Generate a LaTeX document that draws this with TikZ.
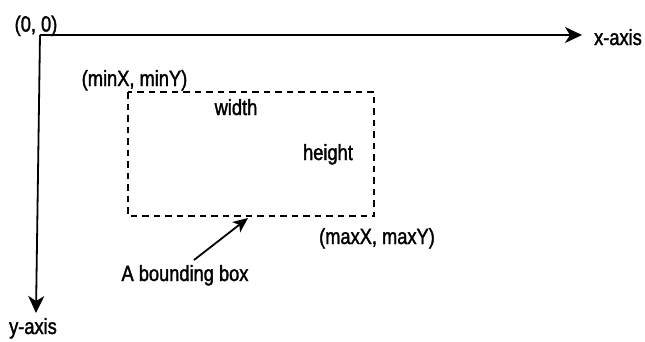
\documentclass[tikz,border=0pt]{standalone}
\usepackage{fontspec}
\setmainfont[FakeStretch=0.83,FakeBold=1.6]{Liberation Sans}
\usetikzlibrary{arrows.meta}
\begin{document}
\begin{tikzpicture}[x=1pt,y=-1pt,
  lbl/.style={inner sep=0pt,anchor=base,font=\fontsize{22}{26}\selectfont},
  axis/.style={line width=1.8pt,-{Stealth[length=17pt,width=16pt,inset=5pt]}},
  bbox/.style={line width=1.6pt,dash pattern=on 6.5pt off 5pt},
  ptr/.style={line width=1.8pt,-{Stealth[length=15pt,width=13pt,inset=4pt]}}]
\useasboundingbox (0,0) rectangle (645,341);
\coordinate (o) at (40,35);
\coordinate (xe) at (582,35);
\coordinate (ye) at (36,313);
\draw[axis] (o) -- (xe);
\draw[axis] (o) -- (ye);
\node[lbl] (xl) at (618,45) {x-axis};
\node[lbl] (yl) at (33,334) {y-axis};
\node[lbl] (org) at (36,31.5) {(0, 0)};
\node[lbl] (mn) at (134.5,86) {(minX, minY)};
\node[lbl] (w) at (236,115) {width};
\node[lbl] (h) at (328,160) {height};
\node[lbl] (mx) at (377,244) {(maxX, maxY)};
\node[lbl] (bb) at (185,281) {A bounding box};
\draw[bbox] (128,92) rectangle (374,216);
\coordinate (tip) at (248,218);
\coordinate (st) at (194,260);
\draw[ptr] (st) -- (tip);
\end{tikzpicture}
\end{document}
